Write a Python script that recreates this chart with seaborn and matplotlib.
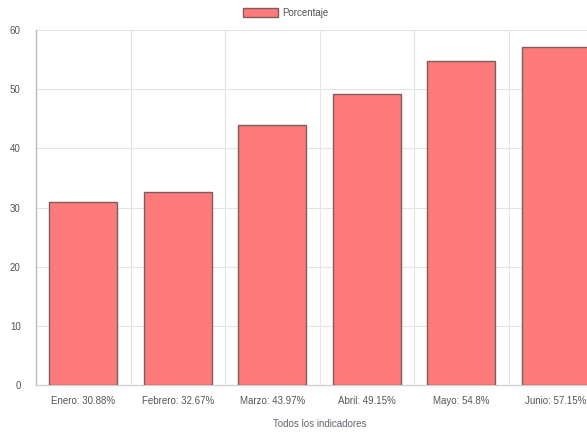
import matplotlib
matplotlib.use("Agg")
import matplotlib.pyplot as plt
import seaborn as sns
import pandas as pd
from matplotlib.patches import Patch

months = ["Enero", "Febrero", "Marzo", "Abril", "Mayo", "Junio"]
values = [30.88, 32.67, 43.97, 49.15, 54.8, 57.15]
tick_labels = ["Enero: 30.88%", "Febrero: 32.67%", "Marzo: 43.97%",
               "Abril: 49.15%", "Mayo: 54.8%", "Junio: 57.15%"]
y_ticks = [0, 10, 20, 30, 40, 50, 60]
series_name = "Porcentaje"
x_title = "Todos los indicadores"

sns.set_style("white")
plt.rcParams['font.family'] = ['Liberation Sans', 'DejaVu Sans']

W, H = 587, 437
fig = plt.figure(figsize=(W / 100, H / 100), dpi=100)
left, right, top, bottom = 36, 603, 30, 385
ax = fig.add_axes([left / W, (H - bottom) / H, (right - left) / W, (bottom - top) / H])

df = pd.DataFrame({"label": tick_labels, "value": values})
fill = "#ff7a7a"
edge = "#7d5c5c"
sns.barplot(data=df, x="label", y="value", color=fill, saturation=1,
            width=0.72, edgecolor=edge, linewidth=1.0, ax=ax, zorder=3)

grid_c = "#e4e4e4"
ax.set_xlim(-0.5, len(values) - 0.5)
ax.set_ylim(0, 60)
ax.set_yticks(y_ticks)
ax.set_yticklabels([str(t) for t in y_ticks])
ax.set_xticks(range(len(values)))
ax.set_xticklabels(tick_labels)
ax.set_xticks([i - 0.5 for i in range(len(values) + 1)], minor=True)

ax.grid(False)
ax.yaxis.grid(True, which="major", color=grid_c, linewidth=0.8, zorder=0)
ax.xaxis.grid(True, which="minor", color=grid_c, linewidth=0.8, zorder=0)
ax.set_axisbelow(True)

ax.tick_params(axis="x", which="major", length=0, pad=8, labelsize=7, labelcolor="#555555")
ax.tick_params(axis="x", which="minor", length=8, color=grid_c, width=0.8)
ax.tick_params(axis="y", which="major", length=8, color=grid_c, width=0.8, pad=3,
               labelsize=7, labelcolor="#555555")

for s in ["top", "right"]:
    ax.spines[s].set_visible(False)
ax.spines["left"].set_color("#b8b8b8")
ax.spines["bottom"].set_color("#cfcfcf")
ax.spines["left"].set_linewidth(0.9)
ax.spines["bottom"].set_linewidth(0.9)

ax.set_ylabel("")
ax.set_xlabel(x_title, fontsize=7, color="#5f6670", labelpad=9)

handle = Patch(facecolor=fill, edgecolor=edge, linewidth=1.0)
fig.legend([handle], [series_name], loc="center", bbox_to_anchor=(286 / W, 1 - 13 / H),
           frameon=False, fontsize=7, handlelength=3.6, handleheight=1.0,
           handletextpad=0.4, labelcolor="#555555")

fig.savefig("out.png", dpi=100)
